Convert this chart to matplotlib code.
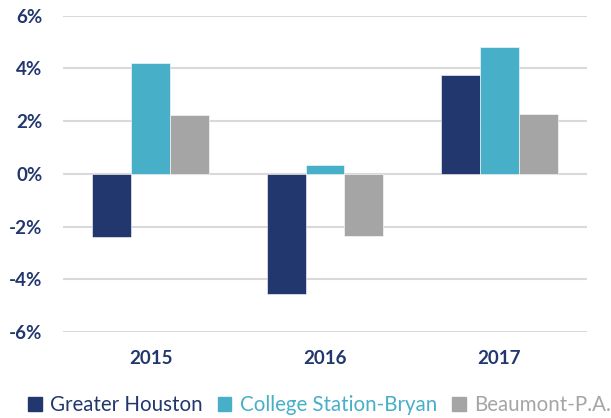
import numpy as np
import matplotlib
matplotlib.use('Agg')
import matplotlib.pyplot as plt
from matplotlib.patches import Patch
from matplotlib.ticker import FuncFormatter

plt.rcParams['font.family'] = ['Lato', 'DejaVu Sans']

years = ['2015', '2016', '2017']
series_names = ['Greater Houston', 'College Station-Bryan', 'Beaumont-P.A.']
greater_houston = [-2.41, -4.54, 3.76]
college_station = [4.19, 0.32, 4.83]
beaumont = [2.25, -2.34, 2.28]
colors = ['#22376d', '#47afc8', '#a5a5a5']

fig = plt.figure(figsize=(6.11, 4.18), dpi=100)
ax = fig.add_axes([63.5 / 611, 1 - 332 / 418, 523 / 611, (332 - 15.7) / 418])

x = np.arange(len(years))
w = 0.223
for i, vals in enumerate([greater_houston, college_station, beaumont]):
    ax.bar(x + (i - 1) * w, vals, width=w, color=colors[i],
           edgecolor='white', linewidth=0.4, zorder=3)

ax.set_xlim(-0.5, 2.5)
ax.set_ylim(-6, 6)
ax.set_yticks(np.arange(-6, 7, 2))
ax.yaxis.set_major_formatter(FuncFormatter(lambda v, p: '%d%%' % v))
ax.set_xticks(x)
ax.set_xticklabels(years)
ax.grid(axis='y', color='#d9d9d9', linewidth=1.5, zorder=0)
for s in ax.spines.values():
    s.set_visible(False)
ax.tick_params(length=0, labelsize=13.5, labelcolor='#22376d', pad=13)
ax.tick_params(axis='y', pad=15)
for lab in ax.get_xticklabels() + ax.get_yticklabels():
    lab.set_fontweight('bold')

handles = [Patch(color=c) for c in colors]
fig.legend(handles, series_names, loc='center', bbox_to_anchor=(319.5 / 611, 1 - 405 / 418),
           ncol=3, frameon=False, fontsize=14.8, labelcolor=colors,
           handlelength=0.65, handleheight=0.65, handletextpad=0.4, columnspacing=0.75,
           borderpad=0, borderaxespad=0)

fig.savefig('out.png', dpi=100)
